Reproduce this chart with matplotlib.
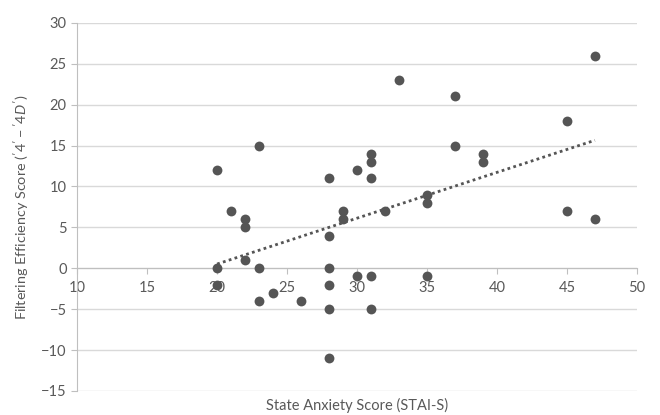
import matplotlib.pyplot as plt
import numpy as np

# state anxiety (STAI-S) vs filtering efficiency score
stai_s = [20, 20, 20, 21, 22, 22, 22, 23, 23, 23, 24, 26,
          28, 28, 28, 28, 28, 28, 29, 29, 30, 30,
          31, 31, 31, 31, 31, 32, 33, 35, 35, 35,
          37, 37, 39, 39, 45, 45, 47, 47]
filt_eff = [12, 0, -2, 7, 6, 5, 1, 15, 0, -4, -3, -4,
            11, 4, 0, -2, -5, -11, 7, 6, 12, -1,
            14, 13, 11, -1, -5, 7, 23, 9, 8, -1,
            21, 15, 14, 13, 18, 7, 26, 6]

x_ticks = [10, 15, 20, 25, 30, 35, 40, 45, 50]
y_ticks = [-15, -10, -5, 0, 5, 10, 15, 20, 25, 30]

plt.rcParams["font.family"] = ["Lato", "DejaVu Sans"]
plt.rcParams["mathtext.fontset"] = "custom"
plt.rcParams["mathtext.it"] = "Lato:italic"
plt.rcParams["mathtext.rm"] = "Lato"

txt = "#595959"
grid_c = "#d9d9d9"

fig = plt.figure(figsize=(6.6, 4.15), dpi=100)
ax = fig.add_axes([0.117, 0.058, 0.848, 0.887])

ax.scatter(stai_s, filt_eff, s=50, color="#555555", zorder=3, linewidths=0)

# linear trend line
x = np.array(stai_s, dtype=float)
y = np.array(filt_eff, dtype=float)
k, b = np.polyfit(x, y, 1)
xs = np.array([x.min(), x.max()])
ax.plot(xs, k * xs + b, color="#555555", lw=2, ls=(0, (1, 1.2)), zorder=2)

ax.set_xlim(10, 50)
ax.set_ylim(-15, 30)
ax.set_xticks(x_ticks)
ax.set_yticks(y_ticks)
ax.yaxis.grid(True, color=grid_c, lw=1)
ax.set_axisbelow(True)

for s in ["top", "right"]:
    ax.spines[s].set_visible(False)
ax.spines["bottom"].set_position(("data", 0))
ax.spines["bottom"].set_color("#bfbfbf")
ax.spines["left"].set_color("#bfbfbf")
ax.tick_params(axis="both", colors="#bfbfbf", labelcolor=txt, labelsize=10.5, length=4)
ax.tick_params(axis="x", pad=5)

ax.set_ylabel("Filtering Efficiency Score ($\\it{'4' - '4D'}$)", color=txt, fontsize=10.4, labelpad=7)
fig.text(0.541, 0.022, "State Anxiety Score (STAI-S)", color=txt, fontsize=10.5, ha="center", va="center")

plt.savefig("out.png", dpi=100)
